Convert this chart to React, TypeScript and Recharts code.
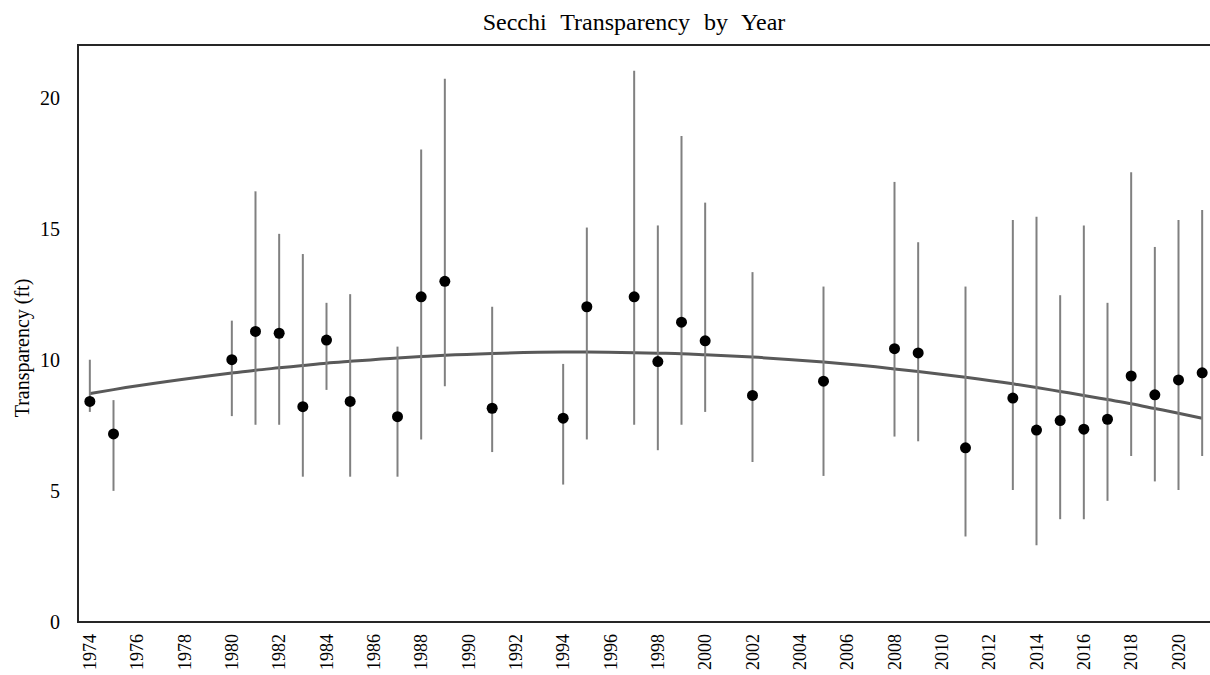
import { ComposedChart, Scatter, Line, XAxis, YAxis, ErrorBar } from 'recharts'

// years with a sampled mean
const obsYears = [
  1974, 1975, 1980, 1981, 1982, 1983, 1984, 1985, 1987, 1988, 1989, 1991, 1994, 1995, 1997, 1998,
  1999, 2000, 2002, 2005, 2008, 2009, 2011, 2013, 2014, 2015, 2016, 2017, 2018, 2019, 2020, 2021,
]
const means = [
  8.41, 7.17, 10.0, 11.08, 11.01, 8.21, 10.75, 8.41, 7.83, 12.4, 12.99, 8.15, 7.77, 12.02, 12.4, 9.93,
  11.43, 10.72, 8.64, 9.18, 10.42, 10.26, 6.64, 8.54, 7.32, 7.68, 7.35, 7.73, 9.38, 8.66, 9.23, 9.5,
]
const highs = [
  10.0, 8.46, 11.49, 16.42, 14.8, 14.03, 12.17, 12.5, 10.5, 18.02, 20.71, 12.02, 9.84, 15.04, 21.02, 15.12,
  18.53, 15.99, 13.34, 12.79, 16.78, 14.48, 12.79, 15.33, 15.45, 12.46, 15.12, 12.17, 17.15, 14.3, 15.33, 15.71,
]
const lows = [
  8.01, 5.0, 7.85, 7.52, 7.52, 5.54, 8.85, 5.54, 5.54, 6.96, 8.99, 6.48, 5.24, 6.96, 7.52, 6.55,
  7.52, 8.01, 6.1, 5.57, 7.07, 6.89, 3.26, 5.03, 2.93, 3.92, 3.92, 4.62, 6.33, 5.36, 5.03, 6.33,
]
// trend line read at each sampled year
const trend = [
  8.71, 8.86, 9.49, 9.6, 9.69, 9.78, 9.87, 9.94, 10.07, 10.12, 10.17, 10.24, 10.29, 10.29, 10.27, 10.25,
  10.23, 10.19, 10.1, 9.91, 9.65, 9.55, 9.33, 9.08, 8.94, 8.79, 8.64, 8.48, 8.32, 8.14, 7.96, 7.77,
]
const firstYear = 1974
const lastYear = 2021
const yTicks = [0, 5, 10, 15, 20]

const years = Array.from({ length: lastYear - firstYear + 1 }, (_, i) => firstYear + i)

const data = years.map(year => {
  const i = obsYears.indexOf(year)
  if (i < 0) return { year, mean: null, err: null, trend: null }
  return {
    year,
    mean: means[i],
    err: [means[i] - lows[i], highs[i] - means[i]],
    trend: trend[i],
  }
})

const FONT = '"Liberation Serif", "Times New Roman", serif'

const YearTick = (props: any) => {
  const { x, y, payload } = props
  return (
    <text
      transform={`translate(${x + 6},${y + 12}) rotate(-90)`}
      textAnchor="end"
      fontSize={18}
      fontFamily={FONT}
      fill="#000"
    >
      {payload.value}
    </text>
  )
}

const Dot = (props: any) => {
  const { cx, cy } = props
  if (typeof cx !== 'number' || typeof cy !== 'number' || isNaN(cy)) return <g />
  return <circle cx={cx} cy={cy} r={5.5} fill="#000" />
}

export default function App() {
  return (
    <div
      style={{
        position: 'absolute', left: 0, top: 0, width: 1210, height: 675,
        overflow: 'hidden', background: '#fff', fontFamily: FONT,
      }}
    >
      <div
        style={{
          position: 'absolute', left: 434, top: 10, width: 400, textAlign: 'center',
          fontSize: 24, lineHeight: '24px', wordSpacing: 8, color: '#000',
        }}
      >
        Secchi Transparency by Year
      </div>
      <div
        style={{
          position: 'absolute', left: 22 - 150, top: 348 - 11, width: 300, textAlign: 'center',
          fontSize: 20, lineHeight: '22px', transform: 'rotate(-90deg)', color: '#000',
        }}
      >
        Transparency (ft)
      </div>
      <div style={{ position: 'absolute', left: 0, top: 0 }}>
        <ComposedChart width={1214} height={675} data={data} margin={{ top: 45, right: 0, bottom: 0, left: 0 }}>
          <XAxis
            dataKey="year"
            type="category"
            scale="band"
            interval={1}
            height={53}
            tickLine={false}
            axisLine={false}
            tickSize={0}
            tickMargin={0}
            tick={YearTick}
          />
          <YAxis
            type="number"
            domain={[0, 22]}
            ticks={yTicks}
            width={78}
            tickLine={false}
            axisLine={false}
            tickSize={0}
            tickMargin={18}
            tick={{ fontSize: 20, fill: '#000', fontFamily: FONT }}
          />
          <Line
            dataKey="trend"
            type="monotone"
            connectNulls
            stroke="#595959"
            strokeWidth={3}
            dot={false}
            activeDot={false}
            isAnimationActive={false}
          />
          <Scatter dataKey="mean" fill="#000" shape={Dot} isAnimationActive={false}>
            <ErrorBar dataKey="err" direction="y" width={0} stroke="#808080" strokeWidth={2} isAnimationActive={false} />
          </Scatter>
        </ComposedChart>
      </div>
      <div
        style={{
          position: 'absolute', left: 77, top: 44, width: 1138, height: 579,
          boxSizing: 'border-box', border: '2px solid #262626', pointerEvents: 'none',
        }}
      />
    </div>
  )
}
